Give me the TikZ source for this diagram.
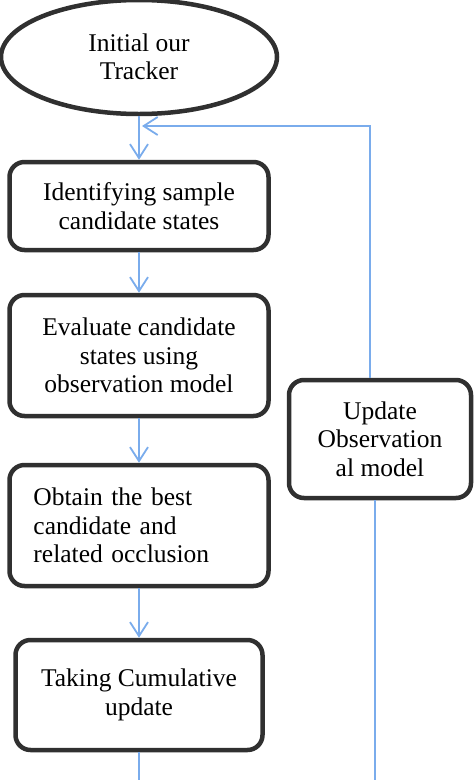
\documentclass[tikz,border=0pt]{standalone}
\usepackage{fontspec}
\setmainfont{Liberation Serif}
\usepackage{tikz}
\usetikzlibrary{shapes.geometric,arrows.meta}
\definecolor{flowblue}{RGB}{122,172,236}
\definecolor{boxgray}{RGB}{48,48,48}

\begin{document}
\begin{tikzpicture}[x=1pt, y=-1pt,
		box/.style={draw=boxgray, line width=4.5pt, rounded corners=15pt, inner sep=0pt, align=center, font=\fontsize{25.5}{28.5}\selectfont},
		flow/.style={draw=flowblue, line width=1.8pt, -{Straight Barb[length=14pt,width=18pt]}},
		link/.style={draw=flowblue, line width=1.8pt}]
			\useasboundingbox (0,0) rectangle (474,780);
			\node [box, ellipse, rounded corners=0pt, minimum width=276pt, minimum height=114pt] (init) at (139,57) {Initial our\\Tracker};
			\node [box, minimum width=259pt, minimum height=88pt] (ident) at (139,206) {Identifying sample\\candidate states};
			\node [box, minimum width=259pt, minimum height=121pt] (eval) at (139,355.5) {Evaluate candidate\\states using\\observation model};
			\node [box, align=left, text width=211pt, minimum width=259pt, minimum height=121pt] (best) at (139,525.5) {Obtain the best\\candidate and\\related occlusion};
			\node [box, minimum width=247pt, minimum height=110pt] (cumul) at (139,695) {Taking Cumulative\\update};
			\node [box, minimum width=182pt, minimum height=118pt] (upd) at (380,439) {Update\\Observation\\al model};
			\coordinate (merge) at (142,126);
			\coordinate (end1) at (139,782);
			\coordinate (end2) at (375,782);
			\draw [flow] (init) -- (ident);
			\draw [flow] (ident) -- (eval);
			\draw [flow] (eval) -- (best);
			\draw [flow] (best) -- (cumul);
			\draw [link] (cumul) -- (end1);
			\draw [flow] ([xshift=-10pt]upd.north) |- (merge);
			\draw [link] ([xshift=-5pt]upd.south) -- (end2);
		\end{tikzpicture}
\end{document}
